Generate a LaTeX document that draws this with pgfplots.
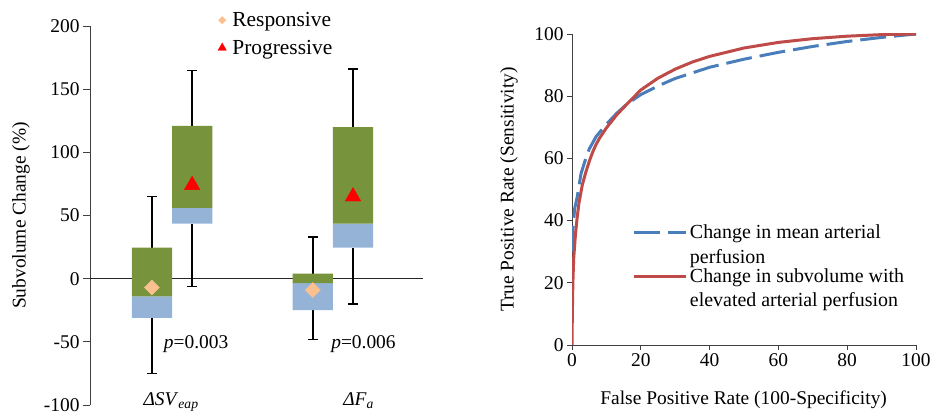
\documentclass[border=0pt]{standalone}
\usepackage{fontspec}
\setmainfont{Liberation Serif}
\usepackage{pgfplots}
\pgfplotsset{compat=1.18}

\definecolor{boxgreen}{HTML}{77933C}
\definecolor{boxblue}{HTML}{95B3D7}
\definecolor{respc}{HTML}{FAC090}
\definecolor{progc}{HTML}{FF0000}
\definecolor{rocblue}{HTML}{4A7EBB}
\definecolor{rocred}{HTML}{BE4B48}
\definecolor{axisgray}{HTML}{404040}

% ROC curves
\pgfplotstableread{
fpr tpr
0 30
0.3 38
0.8 44
1.5 47.5
2.6 55
4 60
5 63
7 67
10 71
13 74.5
16 77.5
20 80.5
25 83.3
30 85.7
40 89.3
50 91.9
60 94.1
70 96
80 97.6
90 98.9
100 100
}\rocmean

\pgfplotstableread{
fpr tpr
0 0
0.1 10
0.25 20
0.5 28
1 35.5
1.5 41
2 45.5
3 51.5
4 55.5
5 59
6 62
7 64.5
8 66.5
10 69.8
13 74
16 77.5
20 82
25 85.8
30 88.7
35 91
40 92.8
50 95.5
60 97.3
70 98.5
80 99.3
90 99.8
100 100
}\rocsub

\pgfplotsset{
  every axis/.append style={
    font=\fontsize{19.5}{23.5}\selectfont,
    /pgf/number format/assume math mode=true,
    tick align=outside,
    tick style={axisgray, line width=0.8bp},
    axis line style={-, axisgray, line width=0.8bp},
  },
}

\begin{document}
\begin{tikzpicture}
\useasboundingbox (0,0) rectangle (936bp,418bp);

% left panel: box plots
\begin{axis}[
  at={(90bp,13bp)}, anchor=south west,
  scale only axis, width=333bp, height=379bp,
  xmin=0.49, xmax=2.56, ymin=-100, ymax=200,
  hide x axis,
  axis y line*=left,
  clip=false,
  unbounded coords=jump,
  ytick={-100,-50,0,50,100,150,200},
  yticklabels={-100,-50,0,50,100,150,200},
  major tick length=7bp,
  ylabel={Subvolume Change (\%)},
  every axis y label/.style={at={(axis description cs:-0.207,0.5)}, rotate=90, anchor=center},
  legend style={draw=none, fill=none, at={(0.375,1.047)}, anchor=north west,
    font=\fontsize{21.5}{26}\selectfont,
    cells={anchor=west}, row sep=8bp,
    /tikz/every odd column/.append style={column sep=4bp}},
]
\addplot[black!85, line width=0.8bp, forget plot] coordinates {(0.49,0) (2.56,0)};

% whiskers (min/max with caps)
\addplot[black, line width=1.4bp, forget plot] coordinates {
  (0.875,24.5) (0.875,65) (nan,nan) (0.845,65) (0.905,65) (nan,nan)
  (0.875,-31) (0.875,-75) (nan,nan) (0.845,-75) (0.905,-75)};
\addplot[black, line width=1.4bp, forget plot] coordinates {
  (1.125,121) (1.125,165) (nan,nan) (1.095,165) (1.155,165) (nan,nan)
  (1.125,43.5) (1.125,-6) (nan,nan) (1.095,-6) (1.155,-6)};
\addplot[black, line width=1.4bp, forget plot] coordinates {
  (1.875,4) (1.875,33) (nan,nan) (1.845,33) (1.905,33) (nan,nan)
  (1.875,-25) (1.875,-48) (nan,nan) (1.845,-48) (1.905,-48)};
\addplot[black, line width=1.4bp, forget plot] coordinates {
  (2.125,120) (2.125,166) (nan,nan) (2.095,166) (2.155,166) (nan,nan)
  (2.125,24.5) (2.125,-20) (nan,nan) (2.095,-20) (2.155,-20)};

% boxes: lower quartile to median (blue), median to upper quartile (green)
\addplot[fill=boxblue, draw=none, forget plot] coordinates {(0.75,-31) (1,-31) (1,-14) (0.75,-14) (0.75,-31)};
\addplot[fill=boxgreen, draw=none, forget plot] coordinates {(0.75,-14) (1,-14) (1,24.5) (0.75,24.5) (0.75,-14)};
\addplot[fill=boxblue, draw=none, forget plot] coordinates {(1,43.5) (1.25,43.5) (1.25,56) (1,56) (1,43.5)};
\addplot[fill=boxgreen, draw=none, forget plot] coordinates {(1,56) (1.25,56) (1.25,121) (1,121) (1,56)};
\addplot[fill=boxblue, draw=none, forget plot] coordinates {(1.75,-25) (2,-25) (2,-3.5) (1.75,-3.5) (1.75,-25)};
\addplot[fill=boxgreen, draw=none, forget plot] coordinates {(1.75,-3.5) (2,-3.5) (2,4) (1.75,4) (1.75,-3.5)};
\addplot[fill=boxblue, draw=none, forget plot] coordinates {(2,24.5) (2.25,24.5) (2.25,43.5) (2,43.5) (2,24.5)};
\addplot[fill=boxgreen, draw=none, forget plot] coordinates {(2,43.5) (2.25,43.5) (2.25,120) (2,120) (2,43.5)};

\addplot[respc, only marks, mark=square*, mark size=5.3bp, mark options={rotate=45},
  legend image post style={mark size=2.6bp}] coordinates {(0.875,-7) (1.875,-9)};
\addlegendentry{Responsive}
\addplot[progc, only marks, mark=triangle*, mark size=9bp,
  legend image post style={mark size=4.8bp}] coordinates {(1.125,74) (2.125,65)};
\addlegendentry{Progressive}

\node[anchor=base] at (axis cs:1.15,-55.5) {\textit{p}=0.003};
\node[anchor=base] at (axis cs:2.19,-55.5) {\textit{p}=0.006};
\node[anchor=base] at (axis cs:0.994,-100) {\textit{ΔSV}\textsubscript{\textit{eap}}};
\node[anchor=base] at (axis cs:2.16,-100) {\textit{ΔF}\textsubscript{\textit{a}}};
\end{axis}

% right panel: ROC curves
\begin{axis}[
  at={(572bp,73bp)}, anchor=south west,
  scale only axis, width=344bp, height=311bp,
  xmin=0, xmax=100, ymin=0, ymax=100,
  axis lines*=left,
  xtick={0,20,...,100}, ytick={0,20,...,100},
  major tick length=5bp,
  xlabel={False Positive Rate (100-Specificity)},
  ylabel={True Positive Rate (Sensitivity)},
  every axis x label/.style={at={(axis description cs:0.499,-0.175)}, anchor=center},
  every axis y label/.style={at={(axis description cs:-0.183,0.5)}, rotate=90, anchor=center},
  legend style={draw=none, fill=none, at={(0.168,0.40)}, anchor=north west,
    font=\fontsize{20}{24.5}\selectfont,
    cells={anchor=west, align=left}},
  legend image code/.code={
    \path[draw=none] (0bp,-12.25bp) -- (0bp,12.25bp);
    \draw[#1] (0bp,12.25bp) -- (52bp,12.25bp);},
]
\addplot[rocblue, line width=3bp, dash pattern=on 26bp off 8bp] table[x=fpr, y=tpr] {\rocmean};
\addlegendentry{Change in mean arterial\\perfusion}
\addplot[rocred, line width=3bp] table[x=fpr, y=tpr] {\rocsub};
\addlegendentry{Change in subvolume with\\elevated arterial perfusion}
\end{axis}
\end{tikzpicture}
\end{document}
